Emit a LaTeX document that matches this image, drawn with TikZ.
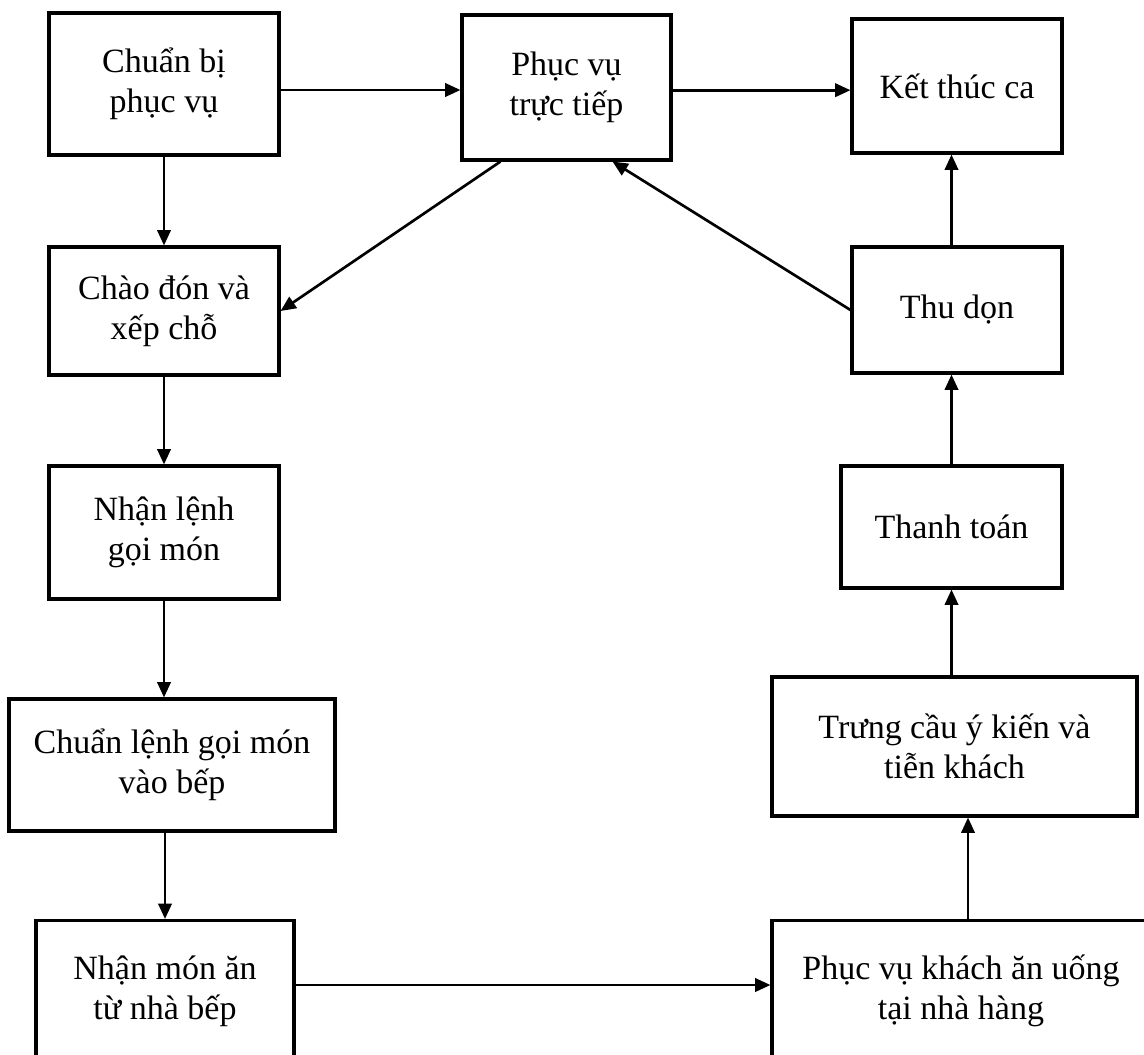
\documentclass[tikz,border=0pt]{standalone}
\usepackage{fontspec}
\setmainfont{Liberation Serif}
\usetikzlibrary{arrows.meta,calc}

\begin{document}
\begin{tikzpicture}[x=0.75pt,y=-0.75pt,>={Triangle[length=11.5pt,width=10pt]},
  st/.style={draw,line width=2.3pt,align=center,inner sep=0pt,font=\fontsize{25.5}{30}\selectfont},line width=2pt]
\useasboundingbox (0,0) rectangle (1144,1054);
\clip (0,0) rectangle (1144,1054);
\foreach \i/\name/\x/\y/\w/\h in {1/{Chuẩn bị\\phục vụ}/164/84/230/142,
  2/{Phục vụ\\trực tiếp}/566.5/87.5/209/145, 3/{Kết thúc ca}/957/86/210/134,
  4/{Chào đón và\\xếp chỗ}/164/311/230/128, 5/{Nhận lệnh\\gọi món}/164/532.5/230/133,
  6/{Chuẩn lệnh gọi món\\vào bếp}/172/765/326/132, 7/{Nhận món ăn\\từ nhà bếp}/165/991/258/141,
  8/{Phục vụ khách ăn uống\\tại nhà hàng}/961/991/378/141,
  9/{Trưng cầu ý kiến và\\tiễn khách}/954.5/746.5/365/139,
  10/{Thanh toán}/951.5/527/221/122, 11/{Thu dọn}/957/310/210/126}
  \node[st,minimum width=\w*0.75pt,minimum height=\h*0.75pt] (s\i) at (\x,\y) {\name};
\draw[->] ([yshift=-4.5pt]s1.east) -- ([yshift=-4.5pt]s1.east -| s2.west);
\draw[->] ([yshift=-2pt]s2.east) -- ([yshift=-2pt]s2.east -| s3.west);
\draw[->] (s1.south) -- (s4.north);
\draw[->] ([xshift=30pt]s2.south west) -- (s4.east);
\draw[->] (s4.south) -- (s5.north);
\draw[->] (s5.south) -- (s5.south |- s6.north);
\draw[->] (s7.north |- s6.south) -- (s7.north);
\draw[->] ([yshift=4.5pt]s7.east) -- ([yshift=4.5pt]s7.east -| s8.west);
\draw[->] ([xshift=5.25pt]s8.north) -- ([xshift=5.25pt]s8.north |- s9.south);
\draw[->] (s10.south |- s9.north) -- (s10.south);
\draw[->] (s10.north) -- (s10.north |- s11.south);
\draw[->] (s11.west) -- ([xshift=34.5pt]s2.south);
\draw[->] (s10.north |- s11.north) -- (s10.north |- s3.south);
\end{tikzpicture}
\end{document}
